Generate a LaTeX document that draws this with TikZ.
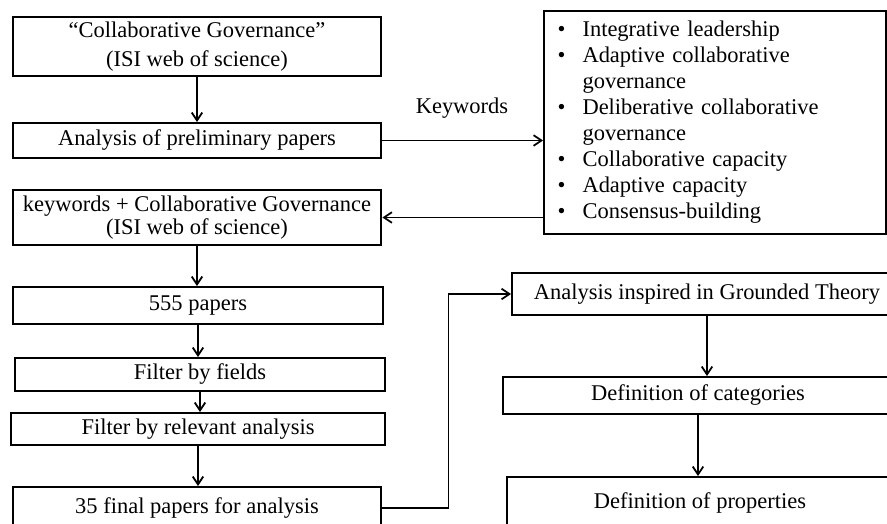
\documentclass[tikz,border=0pt]{standalone}
\usepackage{fontspec}
\setmainfont{Liberation Serif}
\usetikzlibrary{positioning,arrows.meta}
\newcommand{\kwbullet}{\makebox[0.5cm][l]{\textbullet}}
\tikzset{
	basic/.style   = {draw, line width=1.1pt, rectangle, inner sep=2pt,
		font=\fontsize{12.8}{14.8}\selectfont, align=center},
	stage/.style   = {basic, minimum width=7.38cm},
	listbox/.style = {basic, align=left, inner xsep=0.26cm,
		minimum width=6.84cm, minimum height=4.46cm, text width=6.3cm},
	label/.style   = {font=\fontsize{12.8}{14.8}\selectfont},
	link/.style    = {->, line width=1pt}
}
\begin{document}
\begin{tikzpicture}[x=0.02cm, y=-0.02cm,
		>={Straight Barb[length=4.5pt,width=6pt]}]
	\clip (0,0) rectangle (887,524);
	
	% search and filtering steps, left column
	\node[stage, minimum height=1.18cm] (source) at (197,46.5)
	{``Collaborative Governance''\\[2pt](ISI web of science)};
	\node[stage, minimum height=0.7cm] (prelim) at (197,140.5)
	{Analysis of preliminary papers};
	\node[stage, minimum height=1.1cm] (search) at (197,217.5)
	{keywords + Collaborative Governance\\[-1.5pt](ISI web of science)};
	\node[stage, minimum height=0.74cm, minimum width=7.42cm] (found) at (198,305.5)
	{555 papers};
	\node[stage, minimum height=0.66cm, minimum width=7.42cm] (fields) at (200,374.5)
	{Filter by fields};
	\node[stage, minimum height=0.64cm, minimum width=7.5cm] (relevant) at (198,429)
	{Filter by relevant analysis};
	\node[stage, minimum height=0.84cm] (final) at (197,508)
	{35 final papers for analysis};
	
	% keyword list
	\node[listbox] (keywords) at (715,122.5)
	{\kwbullet Integrative leadership\\
		\kwbullet Adaptive collaborative\\
		\hspace*{0.5cm}governance\\
		\kwbullet Deliberative collaborative\\
		\hspace*{0.5cm}governance\\
		\kwbullet Collaborative capacity\\
		\kwbullet Adaptive capacity\\
		\kwbullet Consensus-building};
	\node[label] (kwlabel) at (462,108) {Keywords};
	
	% analysis steps, right column
	\node[stage, minimum height=0.84cm, minimum width=7.8cm] (grounded) at (707,294)
	{Analysis inspired in Grounded Theory};
	\node[stage, minimum height=0.74cm, minimum width=7.8cm] (categories) at (698,395.5)
	{Definition of categories};
	\node[stage, minimum height=1.04cm, minimum width=7.72cm] (properties) at (700,503)
	{Definition of properties};
	
	% connectors
	\draw[link] (source) -- (prelim);
	\draw[link] (prelim.east) -- (prelim.east -| keywords.west);
	\draw[link] (keywords.west |- search.east) -- (search.east);
	\draw[link] (search.south) -- (search.south |- found.north);
	\draw[link] (found.south) -- (found.south |- fields.north);
	\draw[link] (fields.south) -- (fields.south |- relevant.north);
	\draw[link] (relevant.south) -- (relevant.south |- final.north);
	\draw[link] (final.east) -- ++(66,0) |- (grounded.west);
	\draw[link] (grounded.south) -- (grounded.south |- categories.north);
	\draw[link] (categories.south) -- (categories.south |- properties.north);
\end{tikzpicture}
\end{document}
